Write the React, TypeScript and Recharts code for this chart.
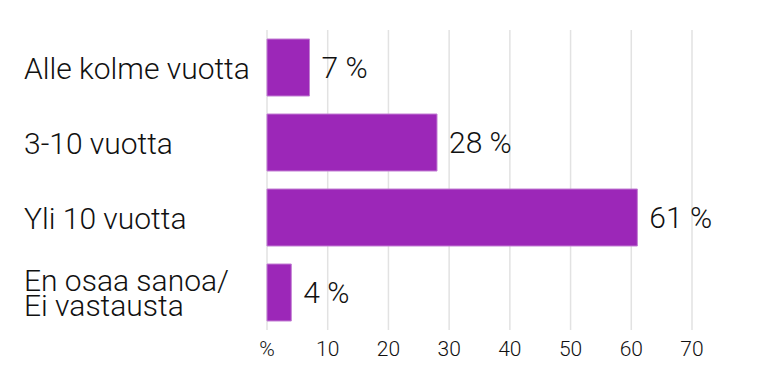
import React from "react";
import { BarChart, Bar, XAxis, YAxis, CartesianGrid, LabelList } from "recharts";

const categories = ["Alle kolme vuotta", "3-10 vuotta", "Yli 10 vuotta", "En osaa sanoa/\nEi vastausta"];
const values = [7, 28, 61, 4];
const xTicks = [0, 10, 20, 30, 40, 50, 60, 70];

const data = categories.map((c, i) => ({ name: c, value: values[i] }));

const FONT = "Roboto, 'DejaVu Sans', sans-serif";

const YTick = (props: any) => {
  const { y, payload } = props;
  const lines = String(payload.value).split("\n");
  const lh = 25.5;
  const start = -((lines.length - 1) * lh) / 2;
  return (
    <text x={24} y={y} textAnchor="start" fontFamily={FONT} fontSize={30} fontWeight={300} fill="#111">
      {lines.map((l, i) => (
        <tspan key={i} x={24} y={y + start + i * lh} dy={11}>
          {l}
        </tspan>
      ))}
    </text>
  );
};

const XTick = (props: any) => {
  const { x, y, payload } = props;
  const label = payload.value === 0 ? "%" : String(payload.value);
  return (
    <text x={x} y={y} dy={26} textAnchor="middle" fontFamily={FONT} fontSize={21} fontWeight={300} fill="#111">
      {label}
    </text>
  );
};

export default function App() {
  return (
    <div style={{ position: "absolute", left: 0, top: 0, width: 761, height: 389, background: "#fff" }}>
      <BarChart
        width={761}
        height={389}
        data={data}
        layout="vertical"
        margin={{ top: 30, right: 69, bottom: 0, left: 0 }}
        barCategoryGap="12%"
      >
        <CartesianGrid horizontal={false} vertical={true} stroke="#e2e2e2" strokeWidth={1.5} />
        <XAxis
          type="number"
          domain={[0, 70]}
          ticks={xTicks}
          axisLine={false}
          tickLine={false}
          tickSize={0}
          tickMargin={0}
          height={59}
          tick={<XTick />}
          interval={0}
        />
        <YAxis
          type="category"
          dataKey="name"
          width={267}
          axisLine={false}
          tickLine={false}
          tick={<YTick />}
          interval={0}
        />
        <Bar dataKey="value" fill="#9c27b8" stroke="#c27fd3" strokeWidth={1} isAnimationActive={false}>
          <LabelList
            dataKey="value"
            position="right"
            offset={12}
            formatter={(v: any) => `${v} %`}
            style={{ fontFamily: FONT, fontSize: 30, fontWeight: 300, fill: "#111" }}
          />
        </Bar>
      </BarChart>
    </div>
  );
}
